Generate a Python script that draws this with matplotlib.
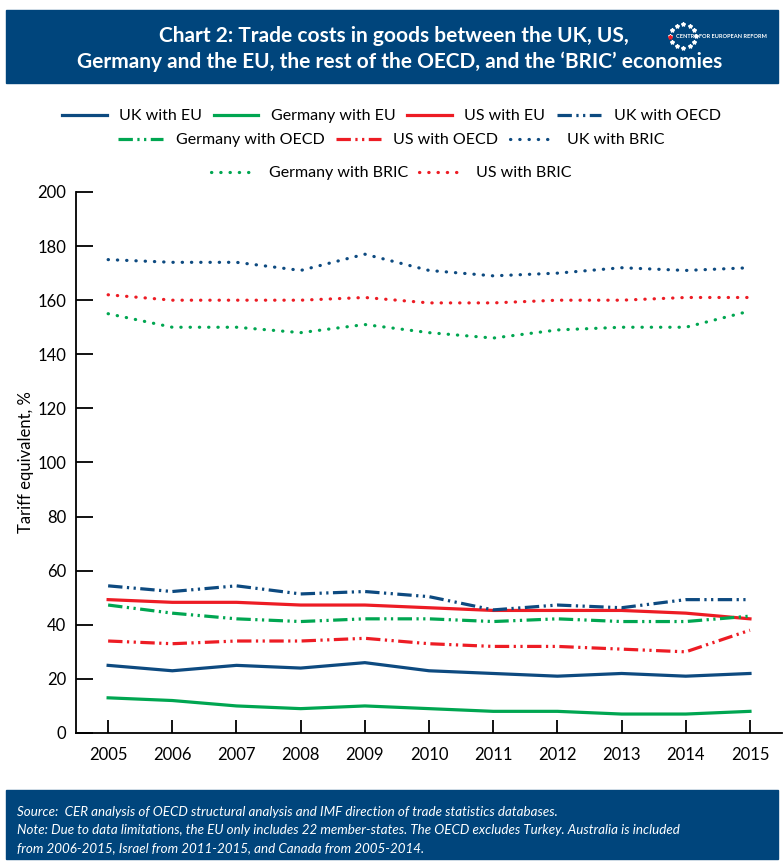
import numpy as np
import matplotlib.pyplot as plt
from matplotlib.patches import Rectangle

plt.rcParams['font.family'] = ['Lato', 'DejaVu Sans']

years = [2005, 2006, 2007, 2008, 2009, 2010, 2011, 2012, 2013, 2014, 2015]

uk_eu = [25, 23, 25, 24, 26, 23, 22, 21, 22, 21, 22]
de_eu = [13, 12, 10, 9, 10, 9, 8, 8, 7, 7, 8]
us_eu = [49.3, 48.3, 48.3, 47.3, 47.3, 46.3, 45.3, 45.3, 45.3, 44.3, 42.2]
uk_oecd = [54.4, 52.3, 54.4, 51.4, 52.3, 50.4, 45.5, 47.3, 46.3, 49.3, 49.3]
de_oecd = [47.3, 44.3, 42.2, 41.2, 42.2, 42.2, 41.2, 42.2, 41.2, 41.2, 43.2]
us_oecd = [34, 33, 34, 34, 35, 33, 32, 32, 31, 30, 38]
uk_bric = [175, 174, 174, 171, 177, 171, 169, 170, 172, 171, 172]
de_bric = [155, 150, 150, 148, 151, 148, 146, 149, 150, 150, 156]
us_bric = [162, 160, 160, 160, 161, 159, 159, 160, 160, 161, 161]

navy = '#0d4a80'
green = '#00a651'
red = '#ed1c24'
banner = '#00457c'

solid = '-'
dashdot = (0, (4.5, 1.4, 0.7, 1.4, 0.7, 1.4))
dotted = (0, (0.1, 2.8))

series = [
    ('UK with EU', uk_eu, navy, solid),
    ('Germany with EU', de_eu, green, solid),
    ('US with EU', us_eu, red, solid),
    ('UK with OECD', uk_oecd, navy, dashdot),
    ('Germany with OECD', de_oecd, green, dashdot),
    ('US with OECD', us_oecd, red, dashdot),
    ('UK with BRIC', uk_bric, navy, dotted),
    ('Germany with BRIC', de_bric, green, dotted),
    ('US with BRIC', us_bric, red, dotted),
]

fig = plt.figure(figsize=(7.83, 8.66), dpi=100)
ax = fig.add_axes([0.0971, 0.1536, 0.9017, 0.6247])

handles = []
for name, vals, col, ls in series:
    capstyle = 'round' if ls is dotted else 'butt'
    h, = ax.plot(years, vals, color=col, linestyle=ls, lw=2.3,
                 dash_capstyle=capstyle, label=name)
    handles.append(h)

ax.set_xlim(2004.5, 2015.5)
ax.set_ylim(0, 200)
ax.set_xticks(years)
ax.set_yticks(range(0, 201, 20))
for s in ['top', 'right']:
    ax.spines[s].set_visible(False)
for s in ['left', 'bottom']:
    ax.spines[s].set_linewidth(1.3)
ax.tick_params(axis='y', direction='in', length=12, width=1.3, labelsize=12, pad=7)
ax.tick_params(axis='x', direction='in', length=9.5, width=1.3, labelsize=12, pad=10)
ax.set_ylabel('Tariff equivalent, %', fontsize=12)
ax.yaxis.set_label_coords(-0.0595, 0.5)

# legend rows
rows = [(handles[0:4], 0.866), (handles[4:7], 0.838), (handles[7:9], 0.800)]
for hs, yy in rows:
    fig.legend(handles=hs, labels=[h.get_label() for h in hs], loc='center',
               bbox_to_anchor=(0.5, yy), ncol=len(hs), frameon=False,
               fontsize=11.5, handlelength=2.8, columnspacing=0.7, handletextpad=0.8)

# header banner
fig.patches.append(Rectangle((6 / 783, 1 - 83 / 866), 772 / 783, 73 / 866,
                             transform=fig.transFigure, color=banner, zorder=0))
fig.text(0.503, 1 - 36 / 866, 'Chart 2: Trade costs in goods between the UK, US,',
         color='white', fontsize=15, fontweight='bold', ha='center', va='center')
fig.text(0.511, 1 - 62 / 866, 'Germany and the EU, the rest of the OECD, and the \u2018BRIC\u2019 economies',
         color='white', fontsize=15, fontweight='bold', ha='center', va='center')
# logo
ang = np.linspace(0, 2 * np.pi, 12, endpoint=False)
fig.lines.append(plt.Line2D((683 + 13 * np.cos(ang)) / 783, (1 - 36 / 866) + 12 * np.sin(ang) / 866,
                            transform=fig.transFigure, ls='none', marker='*', ms=3,
                            color='white'))
fig.lines.append(plt.Line2D([670 / 783], [1 - 37 / 866], transform=fig.transFigure,
                            ls='none', marker='*', ms=3, color=red))
fig.text(676 / 783, 1 - 37 / 866, 'CENTRE FOR EUROPEAN REFORM', color='white',
         fontsize=4.1, fontweight='bold', ha='left', va='center')

# footer banner
fig.patches.append(Rectangle((6 / 783, 1 - 859 / 866), 772 / 783, 69 / 866,
                             transform=fig.transFigure, color=banner, zorder=0))
foot = ['Source:  CER analysis of OECD structural analysis and IMF direction of trade statistics databases.',
        'Note: Due to data limitations, the EU only includes 22 member-states. The OECD excludes Turkey. Australia is included',
        'from 2006-2015, Israel from 2011-2015, and Canada from 2005-2014.']
for i, t in enumerate(foot):
    fig.text(17 / 783, 1 - (812 + 18 * i) / 866, t, color='white', fontsize=9.6,
             style='italic', ha='left', va='center')

fig.savefig('out.png', dpi=100)
